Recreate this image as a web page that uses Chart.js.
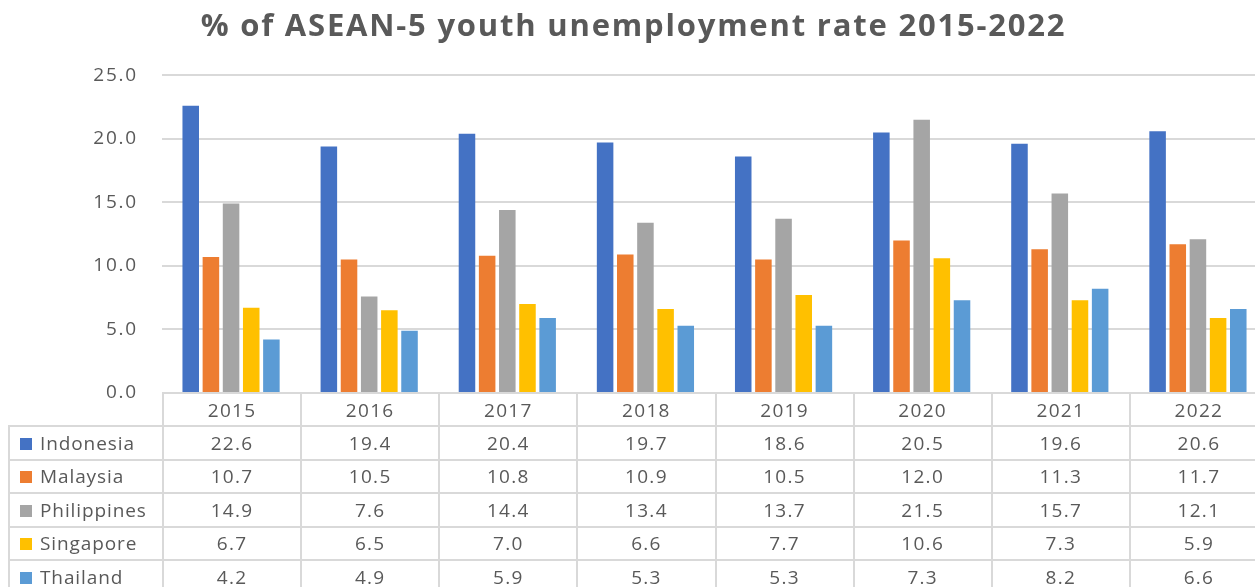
<!DOCTYPE html>
<html>
<head>
<meta charset="utf-8">
<script src="https://cdn.jsdelivr.net/npm/chart.js@4/dist/chart.umd.min.js"></script>
<style>
  html, body { margin: 0; padding: 0; background: #fff; overflow: hidden; }
  #wrap { position: relative; width: 1267px; height: 587px; }
  #dataTable {
    position: absolute;
    border-collapse: collapse;
    font-family: "Open Sans", sans-serif;
    font-size: 19px;
    letter-spacing: 1.3px;
    color: #595959;
    table-layout: fixed;
  }
  #dataTable tr { height: 33.4px; }
  #dataTable td { border: 2px solid #d9d9d9; text-align: center; padding: 0; }
  #dataTable td.lbl { text-align: left; padding-left: 10px; white-space: nowrap; letter-spacing: 0.9px; }
  #dataTable td.blank { border: none; }
  .key { display: inline-block; width: 12px; height: 12px; margin-right: 8px; vertical-align: 0px; }
</style>
</head>
<body>
<div id="wrap">
  <canvas id="myChart" width="1267" height="587"></canvas>
  <table id="dataTable"></table>
</div>
<script>
  // years + series
  const years = ['2015', '2016', '2017', '2018', '2019', '2020', '2021', '2022'];
  const indonesia = [22.6, 19.4, 20.4, 19.7, 18.6, 20.5, 19.6, 20.6];
  const malaysia = [10.7, 10.5, 10.8, 10.9, 10.5, 12.0, 11.3, 11.7];
  const philippines = [14.9, 7.6, 14.4, 13.4, 13.7, 21.5, 15.7, 12.1];
  const singapore = [6.7, 6.5, 7.0, 6.6, 7.7, 10.6, 7.3, 5.9];
  const thailand = [4.2, 4.9, 5.9, 5.3, 5.3, 7.3, 8.2, 6.6];
  const yTicks = [0, 5, 10, 15, 20, 25];

  const datas = [
    { label: 'Indonesia', data: indonesia, backgroundColor: '#4472C4' },
    { label: 'Malaysia', data: malaysia, backgroundColor: '#ED7D31' },
    { label: 'Philippines', data: philippines, backgroundColor: '#A5A5A5' },
    { label: 'Singapore', data: singapore, backgroundColor: '#FFC000' },
    { label: 'Thailand', data: thailand, backgroundColor: '#5B9BD5' }
  ];
  datas.forEach(d => { d.categoryPercentage = 0.73; d.barPercentage = 0.82; });

  // wider text like the original
  const spacing = {
    id: 'spacing',
    beforeDraw: (chart) => { chart.ctx.letterSpacing = '1.8px'; }
  };

  const ctx = document.getElementById('myChart');
  const myChart = new Chart(ctx, {
    type: 'bar',
    data: { labels: years, datasets: datas },
    plugins: [spacing],
    options: {
      responsive: false,
      animation: false,
      layout: { padding: { left: 0, right: 0, top: 0, bottom: 186 } },
      plugins: {
        legend: { display: false },
        tooltip: { enabled: false },
        title: {
          display: true,
          text: '% of ASEAN-5 youth unemployment rate 2015-2022',
          color: '#595959',
          font: { family: 'Open Sans', size: 31, weight: 'bold' },
          padding: { top: 9, bottom: 29 }
        }
      },
      scales: {
        x: {
          ticks: { display: false },
          grid: { display: false },
          border: { display: false }
        },
        y: {
          min: 0,
          max: 25,
          afterBuildTicks: (scale) => { scale.ticks = yTicks.map(v => ({ value: v })); },
          afterFit: (scale) => { scale.width = 162; },
          ticks: {
            padding: 24,
            color: '#595959',
            font: { family: 'Open Sans', size: 19 },
            callback: (v) => Number(v).toFixed(1)
          },
          grid: { color: '#d9d9d9', lineWidth: 2, drawTicks: false },
          border: { display: false }
        }
      }
    }
  });

  // data table under the plot, columns follow the category positions
  const area = myChart.chartArea;
  const colW = (area.right - area.left) / years.length;
  const lblW = 154;
  const tbl = document.getElementById('dataTable');
  tbl.style.left = (area.left - lblW) + 'px';
  tbl.style.top = (area.bottom - 1) + 'px';
  tbl.style.width = (lblW + colW * years.length) + 'px';

  let html = '<colgroup><col style="width:' + lblW + 'px">';
  years.forEach(() => { html += '<col style="width:' + colW + 'px">'; });
  html += '</colgroup><tr><td class="blank"></td>';
  years.forEach(y => { html += '<td>' + y + '</td>'; });
  html += '</tr>';
  datas.forEach(d => {
    html += '<tr><td class="lbl"><span class="key" style="background:' + d.backgroundColor + '"></span>' + d.label + '</td>';
    d.data.forEach(v => { html += '<td>' + v.toFixed(1) + '</td>'; });
    html += '</tr>';
  });
  tbl.innerHTML = html;
</script>
</body>
</html>
